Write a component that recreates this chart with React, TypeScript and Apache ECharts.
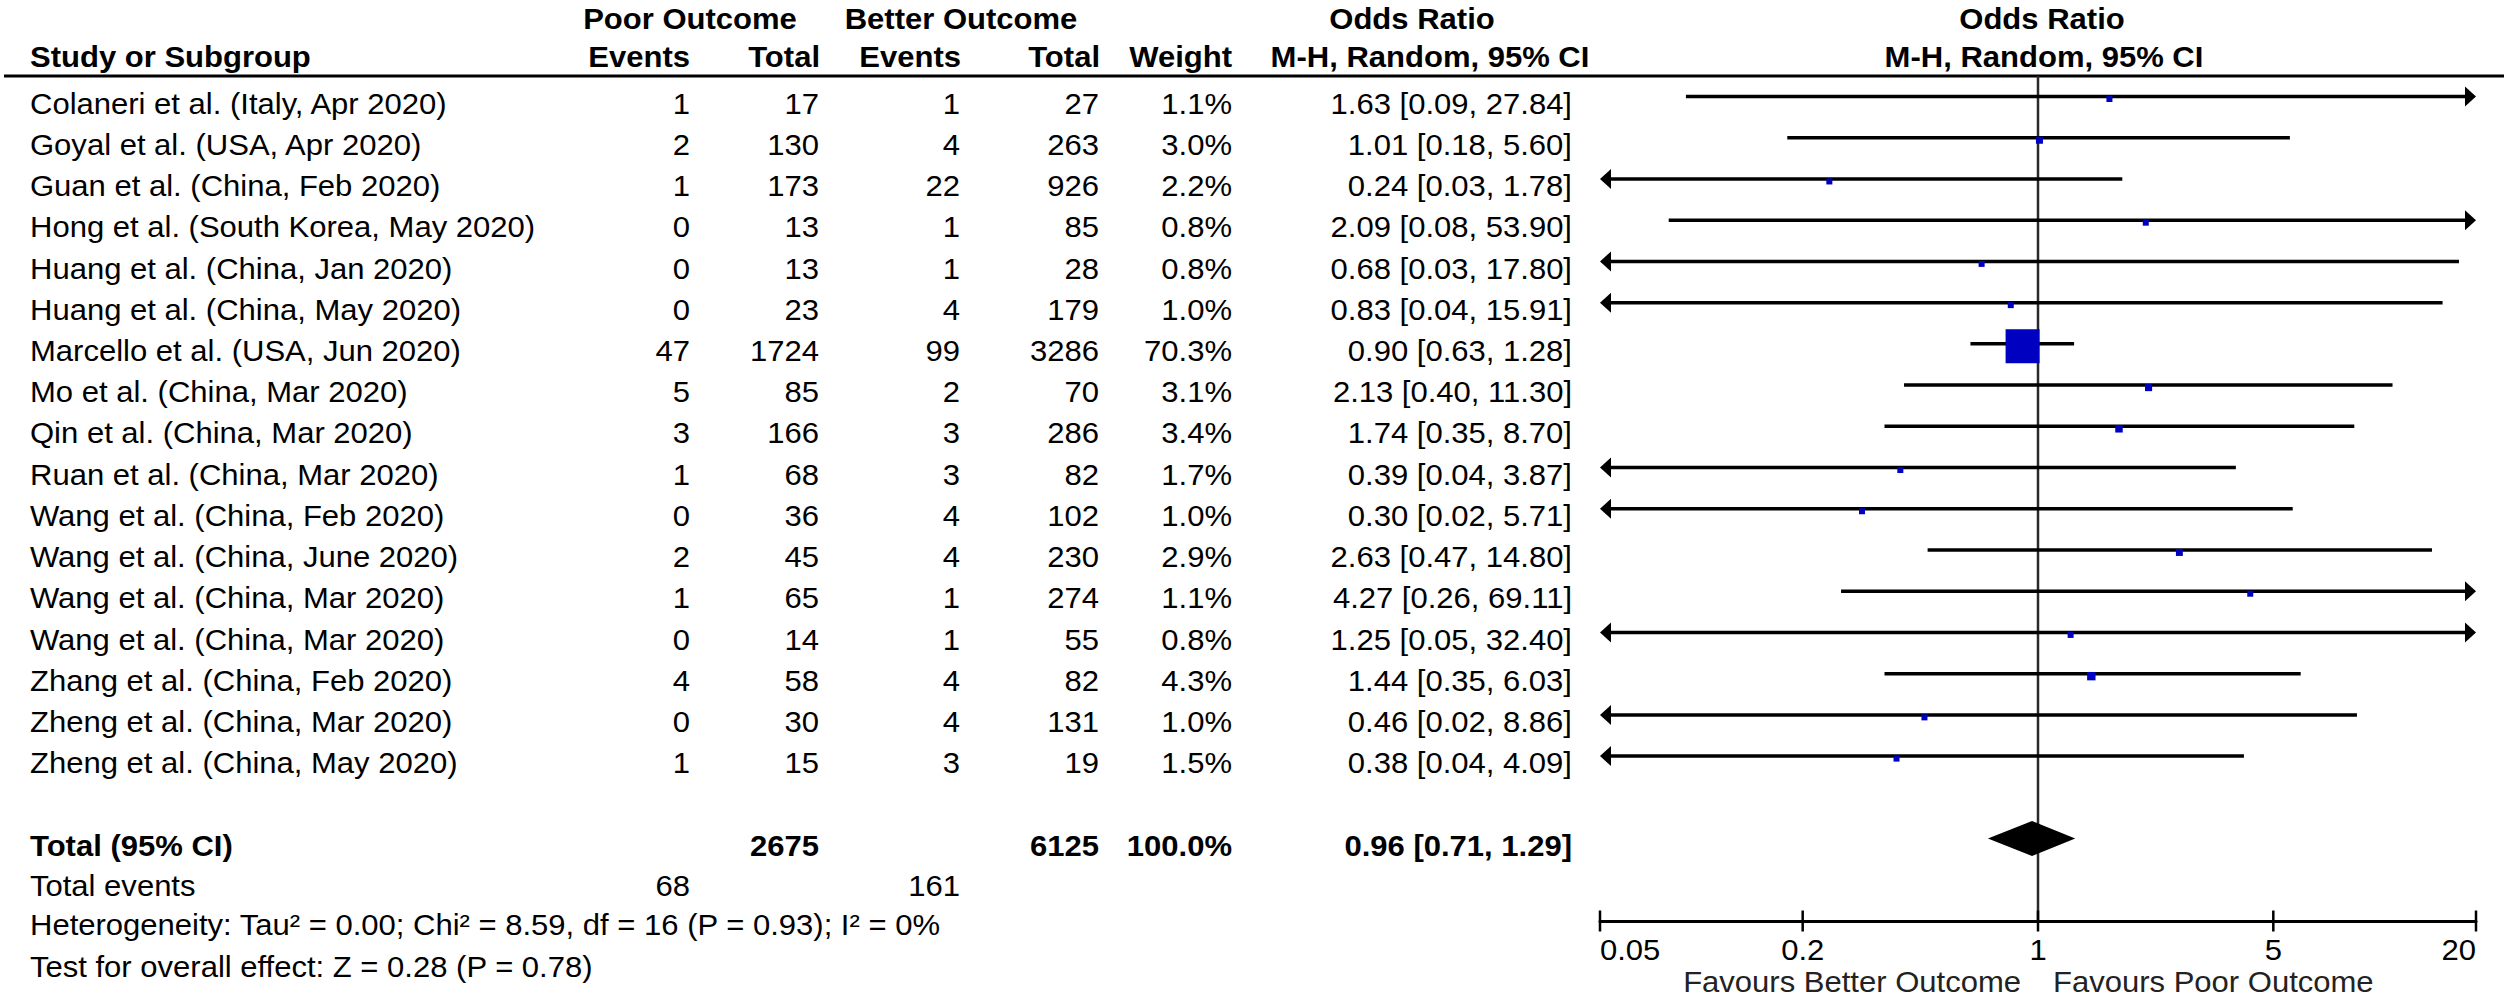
import React, { useEffect, useRef } from "react";
import * as echarts from "echarts";

// ---------------- data ----------------
const studies = [
  "Colaneri et al. (Italy, Apr 2020)",
  "Goyal et al. (USA, Apr 2020)",
  "Guan et al. (China, Feb 2020)",
  "Hong et al. (South Korea, May 2020)",
  "Huang et al. (China, Jan 2020)",
  "Huang et al. (China, May 2020)",
  "Marcello et al. (USA, Jun 2020)",
  "Mo et al. (China, Mar 2020)",
  "Qin et al. (China, Mar 2020)",
  "Ruan et al. (China, Mar 2020)",
  "Wang et al. (China, Feb 2020)",
  "Wang et al. (China, June 2020)",
  "Wang et al. (China, Mar 2020)",
  "Wang et al. (China, Mar 2020)",
  "Zhang et al. (China, Feb 2020)",
  "Zheng et al. (China, Mar 2020)",
  "Zheng et al. (China, May 2020)",
];
const poorEvents = [1, 2, 1, 0, 0, 0, 47, 5, 3, 1, 0, 2, 1, 0, 4, 0, 1];
const poorTotal = [17, 130, 173, 13, 13, 23, 1724, 85, 166, 68, 36, 45, 65, 14, 58, 30, 15];
const betterEvents = [1, 4, 22, 1, 1, 4, 99, 2, 3, 3, 4, 4, 1, 1, 4, 4, 3];
const betterTotal = [27, 263, 926, 85, 28, 179, 3286, 70, 286, 82, 102, 230, 274, 55, 82, 131, 19];
const weights = [1.1, 3.0, 2.2, 0.8, 0.8, 1.0, 70.3, 3.1, 3.4, 1.7, 1.0, 2.9, 1.1, 0.8, 4.3, 1.0, 1.5];
const oddsRatio = [1.63, 1.01, 0.24, 2.09, 0.68, 0.83, 0.9, 2.13, 1.74, 0.39, 0.3, 2.63, 4.27, 1.25, 1.44, 0.46, 0.38];
const ciLow = [0.09, 0.18, 0.03, 0.08, 0.03, 0.04, 0.63, 0.4, 0.35, 0.04, 0.02, 0.47, 0.26, 0.05, 0.35, 0.02, 0.04];
const ciHigh = [27.84, 5.6, 1.78, 53.9, 17.8, 15.91, 1.28, 11.3, 8.7, 3.87, 5.71, 14.8, 69.11, 32.4, 6.03, 8.86, 4.09];

const totalPoor = 2675;
const totalBetter = 6125;
const totalWeight = 100.0;
const totalEventsPoor = 68;
const totalEventsBetter = 161;
const pooled = [0.96, 0.71, 1.29]; // OR, low, high
const TOTAL_ROW = 18;

const tickValues = [0.05, 0.2, 1, 5, 20];
const tickLabels = ["0.05", "0.2", "1", "5", "20"];
const X_MIN = 0.05;
const X_MAX = 20;

const heterogeneityText = "Heterogeneity: Tau² = 0.00; Chi² = 8.59, df = 16 (P = 0.93); I² = 0%";
const overallText = "Test for overall effect: Z = 0.28 (P = 0.78)";

// ---------------- styles ----------------
const FONT = '"Liberation Sans", Arial, Helvetica, sans-serif';
const FS = 29;
const SX = 1.07;
const colX = [30, 690, 819, 960, 1099, 1232, 1572];
const colAlign = ["left", "right", "right", "right", "right", "right", "right"];
const TEXT_DY = 7;

const f2 = (v: number) => v.toFixed(2);
const orText = (o: number, l: number, h: number) => `${f2(o)} [${f2(l)}, ${f2(h)}]`;

function txt(x: number, y: number, text: string, align: string, bold = false, color = "#000") {
  return {
    type: "text",
    x,
    y,
    scaleX: SX,
    silent: true,
    style: {
      text,
      fill: color,
      font: `${bold ? "bold " : ""}${FS}px ${FONT}`,
      textAlign: align,
      textVerticalAlign: "middle",
    },
  };
}

const tableRows = [
  ...studies.map((s, i) => ({
    row: i,
    bold: false,
    cells: [
      s,
      String(poorEvents[i]),
      String(poorTotal[i]),
      String(betterEvents[i]),
      String(betterTotal[i]),
      weights[i].toFixed(1) + "%",
      orText(oddsRatio[i], ciLow[i], ciHigh[i]),
    ],
  })),
  {
    row: TOTAL_ROW,
    bold: true,
    cells: [
      "Total (95% CI)",
      "",
      String(totalPoor),
      "",
      String(totalBetter),
      totalWeight.toFixed(1) + "%",
      orText(pooled[0], pooled[1], pooled[2]),
    ],
  },
];

const maxWeight = Math.max(...weights);

export default function App() {
  const ref = useRef<HTMLDivElement>(null);
  useEffect(() => {
    if (!ref.current) return;
    const chart = echarts.init(ref.current, null, { renderer: "svg" });

    const option: any = {
      animation: false,
      backgroundColor: "#fff",
      grid: { left: 1600, right: 32, top: 75.9, bottom: 79, containLabel: false },
      xAxis: {
        type: "log",
        logBase: 10,
        min: X_MIN,
        max: X_MAX,
        axisLine: { show: true, onZero: false, lineStyle: { color: "#000", width: 3 } },
        axisTick: { show: false },
        axisLabel: { show: false },
        splitLine: { show: false },
      },
      yAxis: { type: "value", min: -0.5, max: 20, inverse: true, show: false },
      graphic: [
        { type: "line", shape: { x1: 4, y1: 76, x2: 2504, y2: 76 }, style: { stroke: "#000", lineWidth: 3 } },
        txt(690, 18.5, "Poor Outcome", "center", true),
        txt(961, 18.5, "Better Outcome", "center", true),
        txt(1412, 18.5, "Odds Ratio", "center", true),
        txt(2042, 18.5, "Odds Ratio", "center", true),
        txt(30, 57, "Study or Subgroup", "left", true),
        txt(690, 57, "Events", "right", true),
        txt(820, 57, "Total", "right", true),
        txt(961, 57, "Events", "right", true),
        txt(1100, 57, "Total", "right", true),
        txt(1232, 57, "Weight", "right", true),
        txt(1430, 57, "M-H, Random, 95% CI", "center", true),
        txt(2044, 57, "M-H, Random, 95% CI", "center", true),
        txt(30, 886, "Total events", "left"),
        txt(690, 886, String(totalEventsPoor), "right"),
        txt(960, 886, String(totalEventsBetter), "right"),
        txt(30, 925, heterogeneityText, "left"),
        txt(30, 967, overallText, "left"),
        txt(2021, 982, "Favours Better Outcome", "right", false, "#222"),
        txt(2053, 982, "Favours Poor Outcome", "left", false, "#222"),
      ],
      series: [
        // reference line at OR = 1
        {
          type: "custom",
          clip: false,
          silent: true,
          data: [[1, -0.5, 20]],
          encode: { x: 0, y: [1, 2] },
          renderItem: (params: any, api: any) => {
            const a = api.coord([api.value(0), api.value(1)]);
            const b = api.coord([api.value(0), api.value(2)]);
            return {
              type: "line",
              shape: { x1: a[0], y1: a[1], x2: b[0], y2: b[1] },
              style: { stroke: "#2a2a2a", lineWidth: 2.5 },
            };
          },
        },
        // axis ticks and labels
        {
          type: "custom",
          clip: false,
          silent: true,
          data: tickValues.map((v) => [v, 20]),
          encode: { x: 0, y: 1 },
          renderItem: (params: any, api: any) => {
            const p = api.coord([api.value(0), api.value(1)]);
            const idx = params.dataIndex;
            const align = idx === 0 ? "left" : idx === tickValues.length - 1 ? "right" : "center";
            return {
              type: "group",
              children: [
                {
                  type: "line",
                  shape: { x1: p[0], y1: p[1] - 10.5, x2: p[0], y2: p[1] + 10.5 },
                  style: { stroke: "#000", lineWidth: 2.5 },
                },
                {
                  type: "text",
                  x: p[0],
                  y: p[1] + 29,
                  scaleX: SX,
                  style: {
                    text: tickLabels[idx],
                    fill: "#000",
                    font: `${FS}px ${FONT}`,
                    textAlign: align,
                    textVerticalAlign: "middle",
                  },
                },
              ],
            };
          },
        },
        // study CIs and weight squares
        {
          type: "custom",
          clip: false,
          silent: true,
          data: studies.map((_, i) => [i, oddsRatio[i], ciLow[i], ciHigh[i], weights[i]]),
          encode: { x: [1, 2, 3], y: 0 },
          renderItem: (params: any, api: any) => {
            const i = api.value(0);
            const or = api.value(1);
            const lo = api.value(2);
            const hi = api.value(3);
            const w = api.value(4);
            const clipL = lo <= X_MIN;
            const clipR = hi >= X_MAX;
            const pL = api.coord([Math.max(lo, X_MIN), i]);
            const pR = api.coord([Math.min(hi, X_MAX), i]);
            const pM = api.coord([or, i]);
            const y = pL[1];
            const AL = 11;
            const AH = 10;
            const x1 = clipL ? pL[0] + AL : pL[0];
            const x2 = clipR ? pR[0] - AL : pR[0];
            const children: any[] = [
              { type: "line", shape: { x1, y1: y, x2, y2: y }, style: { stroke: "#000", lineWidth: 3.5 } },
            ];
            if (clipL) {
              children.push({
                type: "polygon",
                shape: { points: [[pL[0], y], [pL[0] + AL, y - AH], [pL[0] + AL, y + AH]] },
                style: { fill: "#000" },
              });
            }
            if (clipR) {
              children.push({
                type: "polygon",
                shape: { points: [[pR[0], y], [pR[0] - AL, y - AH], [pR[0] - AL, y + AH]] },
                style: { fill: "#000" },
              });
            }
            const s = Math.max(6, Math.sqrt(w / maxWeight) * 34);
            children.push({
              type: "rect",
              shape: { x: pM[0] - s / 2, y: y + 2.5 - s / 2, width: s, height: s },
              style: { fill: "#0000C0" },
            });
            return { type: "group", children };
          },
        },
        // pooled diamond
        {
          type: "custom",
          clip: false,
          silent: true,
          data: [[TOTAL_ROW, pooled[0], pooled[1], pooled[2]]],
          encode: { x: [1, 2, 3], y: 0 },
          renderItem: (params: any, api: any) => {
            const r = api.value(0);
            const c = api.coord([api.value(1), r]);
            const l = api.coord([api.value(2), r]);
            const h = api.coord([api.value(3), r]);
            const hh = 17.5;
            return {
              type: "polygon",
              shape: { points: [[l[0], l[1]], [c[0], c[1] - hh], [h[0], h[1]], [c[0], c[1] + hh]] },
              style: { fill: "#000" },
            };
          },
        },
        // table text
        {
          type: "custom",
          clip: false,
          silent: true,
          data: tableRows.map((r) => [1, r.row]),
          encode: { x: 0, y: 1 },
          renderItem: (params: any, api: any) => {
            const row = tableRows[params.dataIndex];
            const y = api.coord([api.value(0), api.value(1)])[1] + TEXT_DY;
            return {
              type: "group",
              children: row.cells.map((c, k) => ({
                type: "text",
                x: colX[k],
                y,
                scaleX: SX,
                style: {
                  text: c,
                  fill: "#000",
                  font: `${row.bold ? "bold " : ""}${FS}px ${FONT}`,
                  textAlign: colAlign[k],
                  textVerticalAlign: "middle",
                },
              })),
            };
          },
        },
      ],
    };
    chart.setOption(option);
    return () => chart.dispose();
  }, []);

  return (
    <div
      ref={ref}
      style={{ position: "fixed", left: 0, top: 0, width: 2508, height: 1000, background: "#fff" }}
    />
  );
}
